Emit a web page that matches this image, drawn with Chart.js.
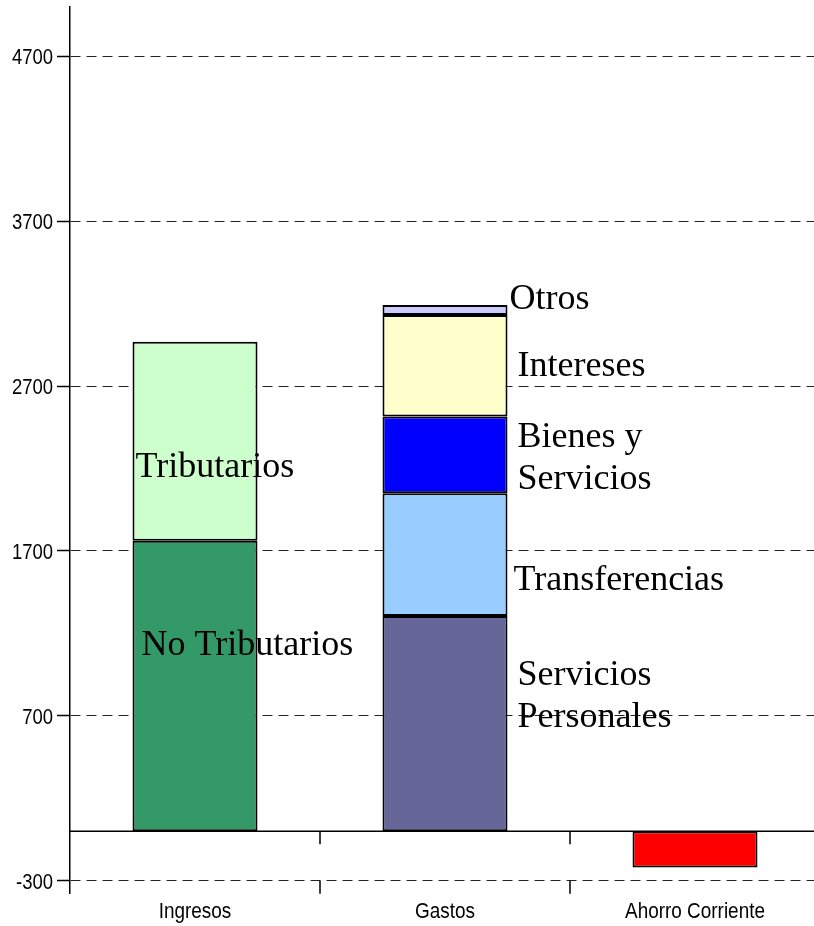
<!DOCTYPE html>
<html>
<head>
<meta charset="utf-8">
<script src="https://cdn.jsdelivr.net/npm/chart.js@4"></script>
<style>
    html, body { margin: 0; padding: 0; background: #fff; overflow: hidden; }
    #wrap { width: 820px; height: 926px; }
</style>
</head>
<body>
<div id="wrap"><canvas id="chart" width="820" height="926"></canvas></div>
<script>
// Datos del grafico
const categories = ['Ingresos', 'Gastos', 'Ahorro Corriente'];
const ingresosParts = ['No Tributarios', 'Tributarios'];
const ingresosValues = [1762, 1207];
const gastosParts = ['Servicios Personales', 'Transferencias', 'Bienes y Servicios', 'Intereses', 'Otros'];
const gastosValues = [1305, 745, 466, 615, 61];
const ahorroParts = ['Ahorro Corriente'];
const ahorroValues = [-220];
const yTicks = [-300, 700, 1700, 2700, 3700, 4700];

// Colores
const ingresosColors = ['#339966', '#CCFFCC'];
const gastosColors = ['#666699', '#99CCFF', '#0000FF', '#FFFFCC', '#CCCCFF'];
const ahorroColors = ['#FF0000'];

// Texto de las etiquetas (lineas) y su posicion relativa a cada segmento
const ingresosLabelLines = [['No Tributarios'], ['Tributarios']];
const gastosLabelLines = [['Servicios', 'Personales'], ['Transferencias'], ['Bienes y', 'Servicios'], ['Intereses'], ['Otros']];
const ingresosLabelPos = [{ side: 'left', dx: 9, dy: -31 }, { side: 'left', dx: 3, dy: 36 }];
const gastosLabelPos = [
    { side: 'right', dx: 10, dy: -39 },
    { side: 'right', dx: 6, dy: 35 },
    { side: 'right', dx: 10, dy: -8 },
    { side: 'right', dx: 10, dy: 10 },
    { side: 'right', dx: 2, dy: -1 }
];

// Construir datasets
function makeDatasets(parts, values, colors, catIndex, lines, pos) {
    return parts.map((name, i) => {
        const data = categories.map(() => null);
        data[catIndex] = values[i];
        return {
            label: name,
            data: data,
            backgroundColor: colors[i],
            borderColor: '#000',
            borderWidth: 2,
            borderSkipped: false,
            labelLines: lines ? lines[i] : null,
            labelPos: pos ? pos[i] : null
        };
    });
}

const datasets = [
    ...makeDatasets(ingresosParts, ingresosValues, ingresosColors, 0, ingresosLabelLines, ingresosLabelPos),
    ...makeDatasets(gastosParts, gastosValues, gastosColors, 1, gastosLabelLines, gastosLabelPos),
    ...makeDatasets(ahorroParts, ahorroValues, ahorroColors, 2, null, null)
];

const sansFont = "22px 'Liberation Sans', Arial, sans-serif";

// Texto estrecho (la fuente original es condensada)
function narrowText(ctx, text, x, y, align, sx) {
    ctx.save();
    ctx.translate(x, y);
    ctx.scale(sx, 1);
    ctx.textAlign = align;
    ctx.fillText(text, 0, 0);
    ctx.restore();
}

// Linea de cero, marcas de categoria, etiquetas de ejes y de segmentos
const extrasPlugin = {
    id: 'extras',
    afterDatasetsDraw(chart) {
        const ctx = chart.ctx;
        const x = chart.scales.x;
        const y = chart.scales.y;
        const area = chart.chartArea;
        const y0 = y.getPixelForValue(0);
        const yMin = y.getPixelForValue(yTicks[0]);

        ctx.save();
        ctx.strokeStyle = '#000';
        ctx.lineWidth = 1.5;
        ctx.beginPath();
        ctx.moveTo(area.left, y0);
        ctx.lineTo(area.right, y0);
        ctx.stroke();

        for (let i = 1; i < categories.length; i++) {
            const bx = (x.getPixelForValue(i - 1) + x.getPixelForValue(i)) / 2;
            ctx.beginPath();
            ctx.moveTo(bx, y0);
            ctx.lineTo(bx, y0 + 13);
            ctx.moveTo(bx, yMin);
            ctx.lineTo(bx, yMin + 13);
            ctx.stroke();
        }

        // Etiquetas de ejes
        ctx.fillStyle = '#000';
        ctx.font = sansFont;
        ctx.textBaseline = 'alphabetic';
        yTicks.forEach(v => {
            narrowText(ctx, String(v), area.left - 17, y.getPixelForValue(v) + 8, 'right', 0.84);
        });
        categories.forEach((c, i) => {
            narrowText(ctx, c, x.getPixelForValue(i), area.bottom + 25, 'center', 0.86);
        });

        // Etiquetas de los segmentos
        ctx.font = "36px 'Liberation Serif', 'Times New Roman', serif";
        ctx.textAlign = 'left';
        chart.data.datasets.forEach((ds, di) => {
            if (!ds.labelLines) return;
            const meta = chart.getDatasetMeta(di);
            meta.data.forEach((bar, idx) => {
                if (ds.data[idx] == null) return;
                const p = bar.getProps(['x', 'y', 'base', 'width'], true);
                const center = (p.y + p.base) / 2;
                const lx = ds.labelPos.side === 'left' ? p.x - p.width / 2 + ds.labelPos.dx : p.x + p.width / 2 + ds.labelPos.dx;
                ds.labelLines.forEach((line, li) => {
                    ctx.fillText(line, lx, center + ds.labelPos.dy + li * 42);
                });
            });
        });
        ctx.restore();
    }
};

new Chart(document.getElementById('chart').getContext('2d'), {
    type: 'bar',
    data: {
        labels: categories,
        datasets: datasets
    },
    options: {
        responsive: false,
        animation: false,
        layout: { padding: { top: 7, right: 0, left: 0, bottom: 0 } },
        datasets: {
            bar: { categoryPercentage: 1, barPercentage: 0.5 }
        },
        plugins: {
            legend: { display: false },
            tooltip: { enabled: false }
        },
        scales: {
            x: {
                stacked: true,
                grid: { display: false, drawTicks: false },
                border: { display: false },
                ticks: { display: false },
                afterFit: scale => { scale.height = 33; scale.paddingLeft = 0; scale.paddingRight = 0; }
            },
            y: {
                stacked: true,
                min: -375,
                max: 5000,
                afterBuildTicks: scale => { scale.ticks = yTicks.map(v => ({ value: v })); },
                grid: {
                    color: '#222',
                    lineWidth: 1,
                    tickLength: 13,
                    tickColor: '#000',
                    tickWidth: 1.5,
                    tickBorderDash: []
                },
                border: { display: true, color: '#000', width: 1.5, dash: [10, 6] },
                ticks: { display: false },
                afterFit: scale => { scale.width = 70; scale.paddingTop = 0; scale.paddingBottom = 0; }
            }
        }
    },
    plugins: [extrasPlugin]
});
</script>
</body>
</html>
